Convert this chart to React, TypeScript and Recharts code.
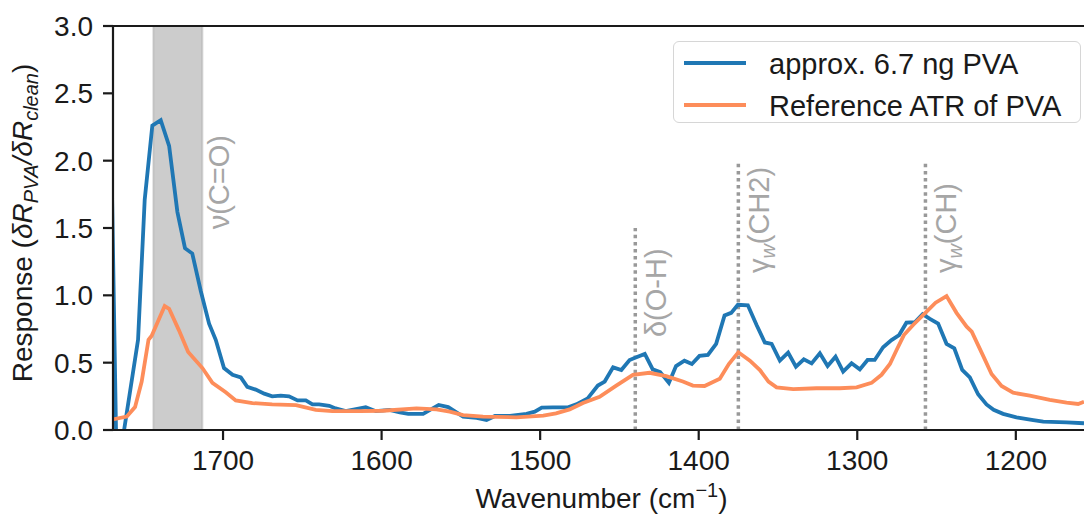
import { LineChart, Line, XAxis, YAxis, ReferenceArea, ReferenceLine, ReferenceDot } from "recharts";

// wavenumber (cm^-1) / response
const blueWavenumber = [
  1771.5, 1767, 1753.6, 1749.4, 1744.6, 1739.3, 1734, 1728.8, 1724, 1719.4, 1714, 1708.8, 1704.6,
  1699.4, 1694, 1688.8, 1684.7, 1679.4, 1674, 1669, 1663.6, 1658.4, 1653, 1647.8, 1643.6, 1639.4,
  1633, 1629, 1622.6, 1610, 1603.6, 1595, 1588.5, 1583.2, 1573.8, 1564, 1558, 1548.6, 1540, 1533.8,
  1528.5, 1519, 1508.6, 1503.4, 1499, 1492, 1482.4, 1477.2, 1470, 1463.6, 1459.3, 1454, 1448.8,
  1443.6, 1439.3, 1434, 1429, 1424.3, 1418.8, 1414.3, 1409, 1404.3, 1399.5, 1394.2, 1389, 1383.7,
  1379.5, 1375.3, 1369, 1363.5, 1358.3, 1354, 1348.8, 1343.6, 1338.7, 1333.7, 1328.8, 1323.6,
  1318.7, 1313.7, 1308.9, 1303.6, 1298.4, 1293.5, 1289, 1283.7, 1278.4, 1273.6, 1269, 1263.7,
  1258.8, 1254.2, 1249, 1243.7, 1238.8, 1233.8, 1229, 1223.8, 1218.5, 1214, 1208, 1199.6, 1189,
  1182.7, 1168, 1157,
];
const blueResponse = [
  2.8, -0.35, 0.67, 1.71, 2.26, 2.3, 2.11, 1.62, 1.35, 1.31, 1.03, 0.79, 0.67,
  0.46, 0.41, 0.39, 0.32, 0.3, 0.27, 0.25, 0.255, 0.25, 0.22, 0.22, 0.19, 0.19,
  0.18, 0.16, 0.14, 0.17, 0.14, 0.15, 0.13, 0.12, 0.12, 0.186, 0.17, 0.1, 0.09, 0.074,
  0.104, 0.104, 0.12, 0.136, 0.166, 0.168, 0.168, 0.19, 0.235, 0.33, 0.36, 0.465, 0.445,
  0.52, 0.54, 0.565, 0.45, 0.43, 0.35, 0.475, 0.515, 0.49, 0.55, 0.557, 0.64, 0.85,
  0.87, 0.93, 0.926, 0.78, 0.65, 0.64, 0.515, 0.574, 0.47, 0.525, 0.495, 0.57,
  0.475, 0.544, 0.433, 0.495, 0.45, 0.52, 0.52, 0.614, 0.668, 0.705, 0.797, 0.8,
  0.86, 0.825, 0.79, 0.64, 0.607, 0.446, 0.39, 0.265, 0.19, 0.15, 0.12, 0.094, 0.074,
  0.062, 0.057, 0.05,
];

const orangeWavenumber = [
  1771, 1760.7, 1755.5, 1751.3, 1747, 1745, 1736.8, 1734, 1727.8, 1722, 1713, 1706.7, 1698.3,
  1692, 1681.5, 1669, 1654, 1641.5, 1631, 1614, 1599, 1578, 1565.4, 1557, 1548.6, 1536, 1515,
  1498, 1490, 1481.4, 1473, 1462.5, 1452, 1441.5, 1431, 1420.5, 1410, 1403.7, 1396.3, 1386.7,
  1381, 1375, 1367.7, 1361.4, 1356, 1350.9, 1340.4, 1325.7, 1311, 1300.4, 1291, 1284.7, 1279.4,
  1275.2, 1270.6, 1264.8, 1257.4, 1250.6, 1243.7, 1237.4, 1231, 1227.8, 1220.6, 1215.3, 1209,
  1201.7, 1191.2, 1178.6, 1168, 1160.7, 1157,
];
const orangeResponse = [
  0.075, 0.1, 0.17, 0.36, 0.67, 0.7, 0.92, 0.9, 0.74, 0.58, 0.46, 0.35, 0.28,
  0.22, 0.2, 0.19, 0.185, 0.15, 0.14, 0.14, 0.143, 0.16, 0.153, 0.136, 0.11, 0.1, 0.094,
  0.106, 0.124, 0.153, 0.2, 0.247, 0.33, 0.41, 0.425, 0.4, 0.36, 0.33, 0.327, 0.38,
  0.49, 0.577, 0.515, 0.445, 0.36, 0.317, 0.304, 0.31, 0.31, 0.317, 0.35, 0.41, 0.49,
  0.594, 0.705, 0.78, 0.866, 0.945, 0.995, 0.87, 0.767, 0.73, 0.55, 0.416, 0.327,
  0.277, 0.255, 0.223, 0.203, 0.193, 0.21,
];

const seriesNames = ["approx. 6.7 ng PVA", "Reference ATR of PVA"];
const seriesColors = ["#1f77b4", "#fd8d5a"];

const xTicks = [1700, 1600, 1500, 1400, 1300, 1200];
const yTicks = [0, 0.5, 1, 1.5, 2, 2.5, 3];

// shaded C=O stretch region and dotted band markers
const carbonylBand = [1744, 1713];
const markerWavenumbers = [1440, 1375, 1257];
const markerTops = [1.5, 2.0, 2.0];

// rotated band labels: symbol, subscript, group, anchor (wavenumber, response)
const labelSymbols = ["ν", "δ", "γ", "γ"];
const labelSubs = ["", "", "w", "w"];
const labelGroups = ["(C=O)", "(O-H)", "(CH2)", "(CH)"];
const labelWavenumbers = [1696, 1420.7, 1355.7, 1237.8];
const labelResponses = [1.49, 0.69, 1.165, 1.165];

const blueData = blueWavenumber.map((w, i) => ({ w, v: blueResponse[i] }));
const orangeData = orangeWavenumber.map((w, i) => ({ w, v: orangeResponse[i] }));

const FONT = '"Liberation Sans", Arial, Helvetica, sans-serif';
const INK = "#1a1a1a";
const GREY_TEXT = "#a6a6a6";

function BandLabel(props: any, i: number) {
  const { cx, cy } = props;
  const sub = labelSubs[i];
  return (
    <text
      x={cx}
      y={cy}
      transform={`rotate(-90 ${cx} ${cy})`}
      fill={GREY_TEXT}
      fontSize={29}
      fontFamily={FONT}
    >
      <tspan>{labelSymbols[i]}</tspan>
      {sub ? (
        <tspan fontSize={20} fontStyle="italic" dy={6}>
          {sub}
        </tspan>
      ) : null}
      <tspan dy={sub ? -6 : 0}>{labelGroups[i]}</tspan>
    </text>
  );
}

function XTitle(props: any) {
  const vb = props.viewBox;
  return (
    <text x={vb.x + vb.width / 2 + 3} y={vb.y + 78} textAnchor="middle" fill={INK} fontSize={28} fontFamily={FONT}>
      <tspan>Wavenumber (cm</tspan>
      <tspan fontSize={20} dy={-11}>−1</tspan>
      <tspan dy={11}>)</tspan>
    </text>
  );
}

function YTitle(props: any) {
  const vb = props.viewBox;
  const cy = vb.y + vb.height / 2 - 5;
  return (
    <text x={-cy} y={32} transform="rotate(-90)" textAnchor="middle" fill={INK} fontSize={28} fontFamily={FONT}>
      <tspan>Response (</tspan>
      <tspan fontStyle="italic">δR</tspan>
      <tspan fontStyle="italic" fontSize={20} dy={6}>PVA</tspan>
      <tspan fontStyle="italic" dy={-6}>/δR</tspan>
      <tspan fontStyle="italic" fontSize={20} dy={6}>clean</tspan>
      <tspan dy={-6}>)</tspan>
    </text>
  );
}

function LegendBox() {
  return (
    <div
      style={{
        position: "absolute",
        left: 673,
        top: 41,
        width: 406,
        height: 80,
        border: "1.5px solid #d6d6d6",
        borderRadius: 6,
        background: "rgba(255,255,255,0.85)",
        fontFamily: FONT,
        fontSize: 29,
        color: INK,
      }}
    >
      {seriesNames.map((name, i) => (
        <div key={name}>
          <div
            style={{
              position: "absolute",
              left: 10,
              top: 19 + i * 42,
              width: 62,
              height: 4,
              background: seriesColors[i],
            }}
          />
          <div
            style={{
              position: "absolute",
              left: 95,
              top: 8 + i * 42,
              lineHeight: "29px",
              whiteSpace: "nowrap",
            }}
          >
            {name}
          </div>
        </div>
      ))}
    </div>
  );
}

export default function App() {
  return (
    <div
      style={{
        position: "absolute",
        left: 0,
        top: 0,
        width: 1084,
        height: 517,
        overflow: "hidden",
        background: "#fff",
        fontFamily: FONT,
      }}
    >
      <LineChart width={1084} height={517} margin={{ top: 26, right: 0, bottom: 0, left: 0 }}>
        <ReferenceArea
          x1={carbonylBand[0]}
          x2={carbonylBand[1]}
          fill="#808080"
          fillOpacity={0.4}
          stroke="#808080"
          strokeOpacity={0.25}
          strokeWidth={2}
        />
        <XAxis
          type="number"
          dataKey="w"
          domain={[1157, 1769.4]}
          reversed
          allowDataOverflow
          ticks={xTicks}
          interval={0}
          height={87}
          tickSize={10}
          tickMargin={10}
          axisLine={{ stroke: INK, strokeWidth: 2.2 }}
          tickLine={{ stroke: INK, strokeWidth: 2.2 }}
          tick={{ fill: INK, fontSize: 28 }}
          label={{ content: XTitle }}
        />
        <YAxis
          type="number"
          domain={[0, 3]}
          allowDataOverflow
          ticks={yTicks}
          interval={0}
          width={113}
          tickSize={10}
          tickMargin={10}
          tickFormatter={(v: number) => v.toFixed(1)}
          axisLine={{ stroke: INK, strokeWidth: 2.2 }}
          tickLine={{ stroke: INK, strokeWidth: 2.2 }}
          tick={{ fill: INK, fontSize: 28 }}
          label={{ content: YTitle }}
        />
        <ReferenceLine y={3} stroke={INK} strokeWidth={2.2} />
        {markerWavenumbers.map((w, i) => (
          <ReferenceLine
            key={`m${w}`}
            segment={[
              { x: w, y: 0 },
              { x: w, y: markerTops[i] },
            ]}
            stroke="#999999"
            strokeWidth={3.5}
            strokeDasharray="3.5 3.6"
          />
        ))}
        <Line
          data={blueData}
          dataKey="v"
          type="linear"
          stroke={seriesColors[0]}
          strokeWidth={3.8}
          dot={false}
          isAnimationActive={false}
        />
        <Line
          data={orangeData}
          dataKey="v"
          type="linear"
          stroke={seriesColors[1]}
          strokeWidth={3.8}
          dot={false}
          isAnimationActive={false}
        />
        {labelWavenumbers.map((w, i) => (
          <ReferenceDot
            key={`l${i}`}
            x={w}
            y={labelResponses[i]}
            r={1}
            ifOverflow="visible"
            shape={(p: any) => BandLabel(p, i)}
          />
        ))}
      </LineChart>
      <LegendBox />
    </div>
  );
}
